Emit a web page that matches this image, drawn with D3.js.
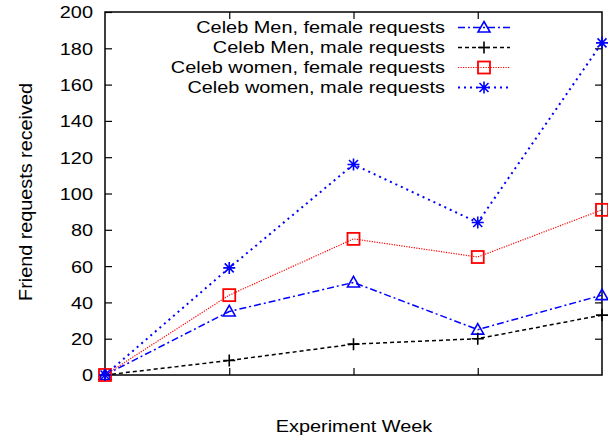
<!DOCTYPE html>
<html><head><meta charset="utf-8">
<script src="https://cdn.jsdelivr.net/npm/d3@7"></script>
<style>body{margin:0;background:#fff}svg{display:block}text{font-family:"Liberation Sans",Arial,sans-serif;fill:#000}</style>
</head><body>
<script>
const weeks = [0, 1, 2, 3, 4];
const seriesNames = ["Celeb Men, female requests", "Celeb Men, male requests", "Celeb women, female requests", "Celeb women, male requests"];
const menFemale = [0, 35, 51, 25, 44];
const menMale = [0, 8, 17, 20, 33];
const womenFemale = [0, 44, 75, 65, 91];
const womenMale = [0, 59, 116, 84, 183];
const yTicks = [0, 20, 40, 60, 80, 100, 120, 140, 160, 180, 200];

const W = 608, H = 436;
const SX = 1.17; // horizontal stretch of the glyphs
const FS = "17px";
const m = {l: 105, r: 6, t: 12, b: 61};
const svg = d3.select("body").append("svg").attr("width", W).attr("height", H);
const x = d3.scaleLinear().domain([0, 4]).range([m.l, W - m.r]);
const y = d3.scaleLinear().domain([0, 200]).range([H - m.b, m.t]);

const tl = 7;
svg.append("g").attr("transform", `translate(${m.l},0)`)
  .call(d3.axisLeft(y).tickValues(yTicks).tickSize(-tl))
  .call(g => g.select(".domain").remove())
  .call(g => g.selectAll("text").attr("x", 0).attr("dy", "0.35em").style("font-size", FS)
    .attr("transform", `translate(-12,0) scale(${SX},1)`));
svg.append("g").attr("transform", `translate(${W - m.r},0)`)
  .call(d3.axisRight(y).tickValues(yTicks.slice(1, -1)).tickSize(-tl).tickFormat(""))
  .call(g => g.select(".domain").remove());
svg.append("g").attr("transform", `translate(0,${H - m.b})`)
  .call(d3.axisBottom(x).tickValues(weeks.slice(1, -1)).tickSize(-tl).tickFormat(""))
  .call(g => g.select(".domain").remove());
svg.append("g").attr("transform", `translate(0,${m.t})`)
  .call(d3.axisTop(x).tickValues(weeks.slice(1, -1)).tickSize(-tl).tickFormat(""))
  .call(g => g.select(".domain").remove());
svg.selectAll(".tick line").attr("stroke", "#000").attr("stroke-width", 1.2);

svg.append("rect").attr("x", m.l).attr("y", m.t).attr("width", W - m.r - m.l).attr("height", H - m.b - m.t)
  .attr("fill", "none").attr("stroke", "#000").attr("stroke-width", 1.5);

const styles = [
  {data: menFemale, color: "#0000ff", dash: "7,3,2,3", width: 1.5, marker: "tri"},
  {data: menMale, color: "#000000", dash: "4,3", width: 1.5, marker: "plus"},
  {data: womenFemale, color: "#ff0000", dash: "1.2,1.3", width: 1.2, marker: "sq"},
  {data: womenMale, color: "#0000ff", dash: "2,4", width: 2, marker: "star"}
];

function drawMarker(g, type, cx, cy, color) {
  const s = 6;
  if (type === "tri") {
    g.append("path").attr("d", `M${cx},${cy - s}L${cx + s},${cy + s * 0.75}L${cx - s},${cy + s * 0.75}Z`)
      .attr("fill", "none").attr("stroke", color).attr("stroke-width", 1.6);
  } else if (type === "plus") {
    g.append("path").attr("d", `M${cx - s},${cy}H${cx + s}M${cx},${cy - s}V${cy + s}`)
      .attr("stroke", color).attr("stroke-width", 1.6);
  } else if (type === "sq") {
    g.append("rect").attr("x", cx - s).attr("y", cy - s).attr("width", 2 * s).attr("height", 2 * s)
      .attr("fill", "none").attr("stroke", color).attr("stroke-width", 1.8);
  } else {
    const d = s * 0.75;
    g.append("path").attr("d", `M${cx - s},${cy}H${cx + s}M${cx},${cy - s}V${cy + s}M${cx - d},${cy - d}L${cx + d},${cy + d}M${cx - d},${cy + d}L${cx + d},${cy - d}`)
      .attr("stroke", color).attr("stroke-width", 1.6);
  }
}

const line = d3.line().x((d, i) => x(weeks[i])).y(d => y(d));
styles.forEach(st => {
  svg.append("path").datum(st.data).attr("d", line).attr("fill", "none")
    .attr("stroke", st.color).attr("stroke-width", st.width).attr("stroke-dasharray", st.dash);
  const g = svg.append("g");
  st.data.forEach((v, i) => drawMarker(g, st.marker, x(weeks[i]), y(v), st.color));
});

// legend
const lg = svg.append("g");
seriesNames.forEach((name, i) => {
  const yy = 27.5 + i * 20;
  const st = styles[i];
  lg.append("text").attr("transform", `translate(445,${yy}) scale(${SX},1)`).attr("dy", "0.35em")
    .attr("text-anchor", "end").style("font-size", FS).text(name);
  lg.append("line").attr("x1", 458).attr("x2", 510).attr("y1", yy).attr("y2", yy)
    .attr("stroke", st.color).attr("stroke-width", st.width).attr("stroke-dasharray", st.dash);
  drawMarker(lg, st.marker, 484, yy, st.color);
});

svg.append("text").attr("transform", `translate(32,192) scale(0.92,1) rotate(-90)`)
  .attr("text-anchor", "middle").style("font-size", "19.8px").text("Friend requests received");
svg.append("text").attr("transform", `translate(354,432) scale(${SX},1)`).attr("text-anchor", "middle")
  .style("font-size", FS).text("Experiment Week");
</script>
</body></html>
